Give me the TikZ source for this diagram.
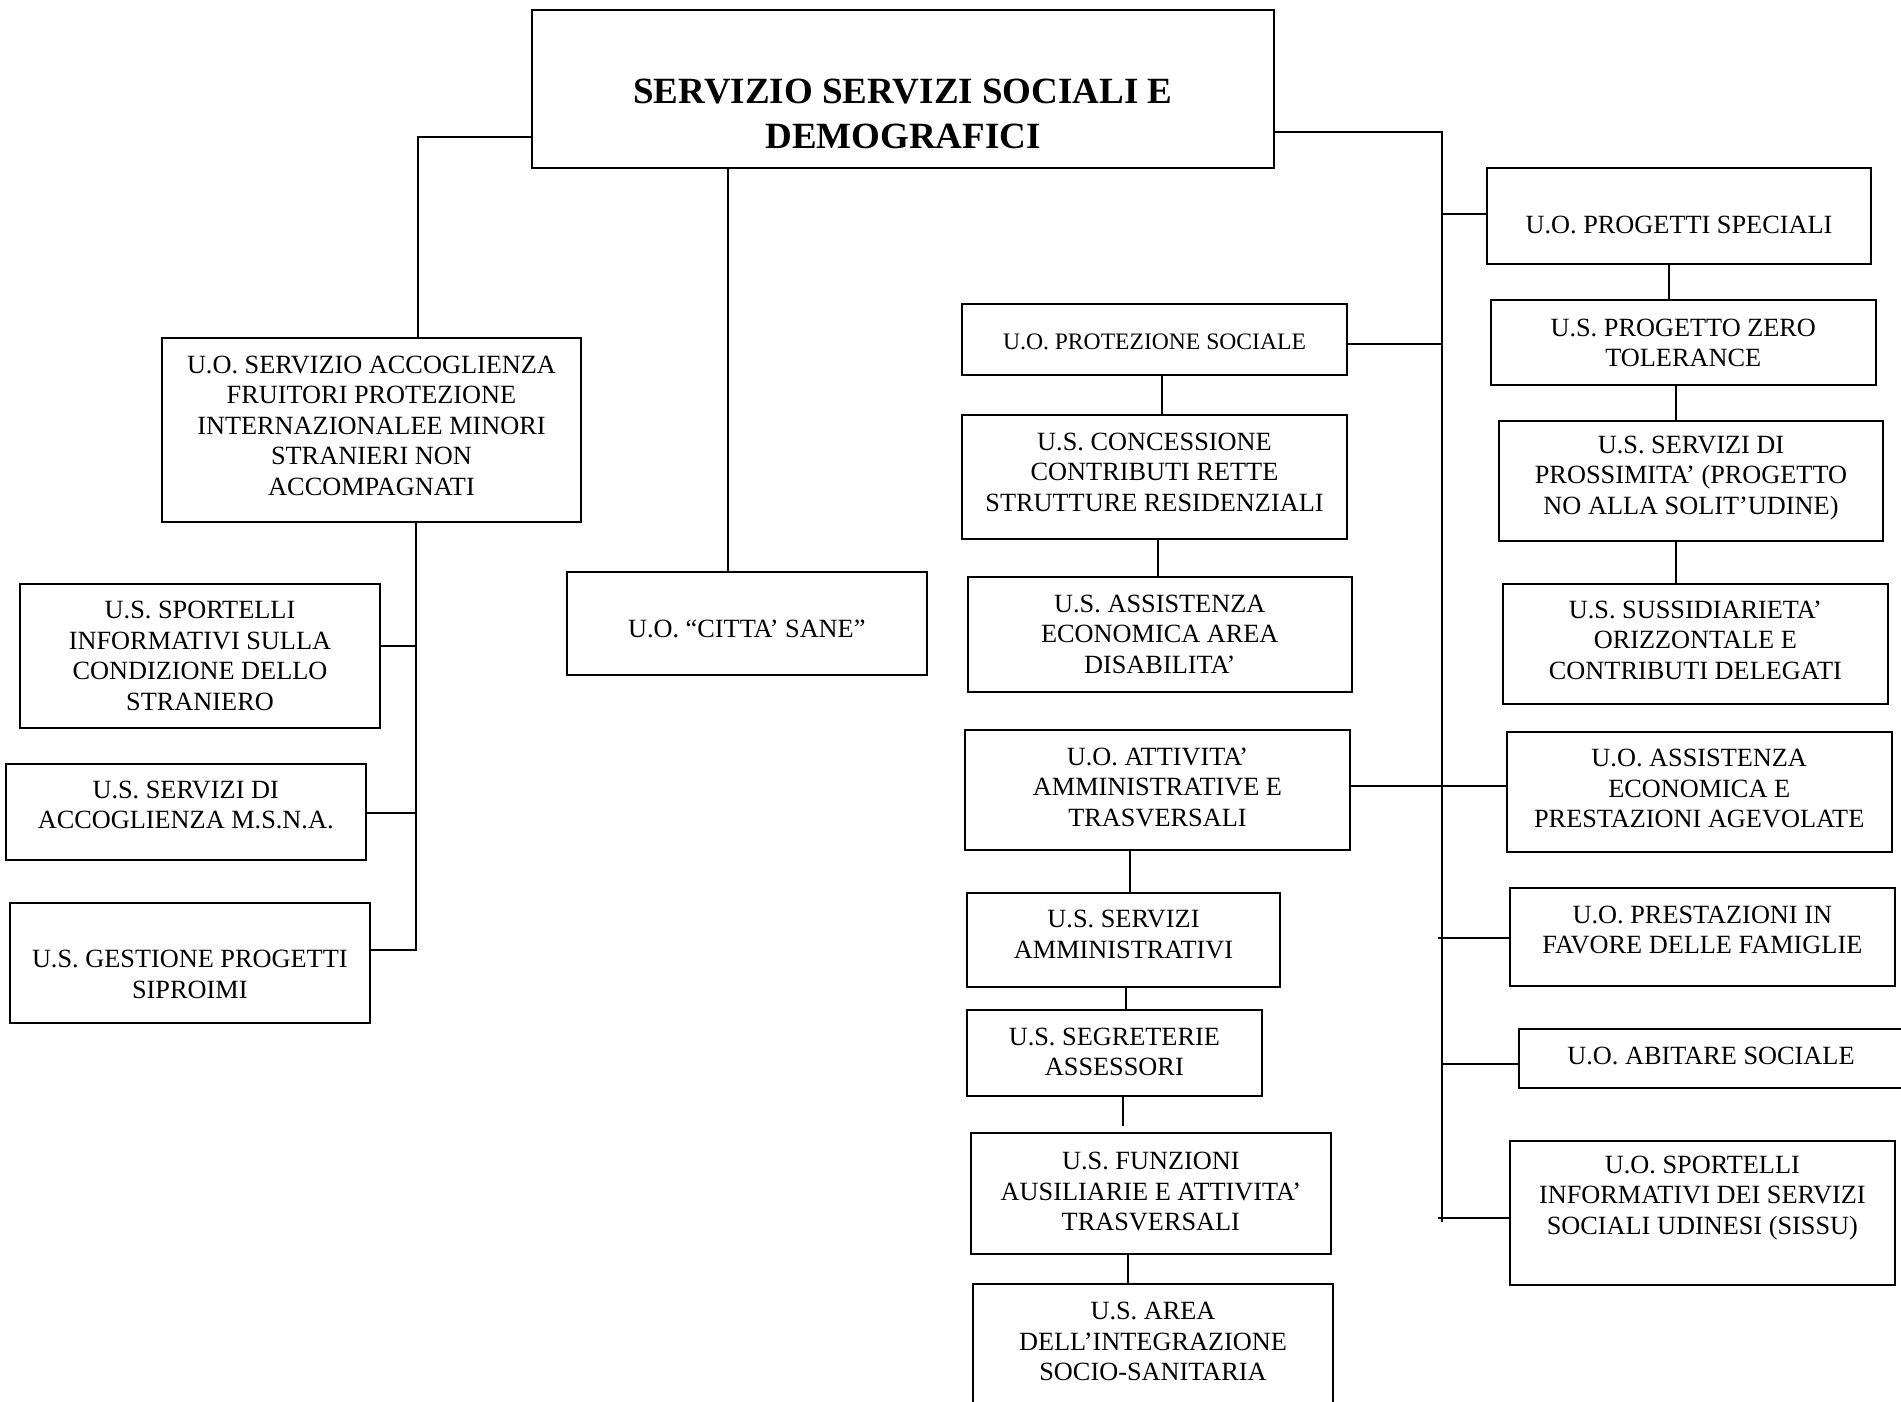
\documentclass[tikz,border=0pt]{standalone}
\usepackage{fontspec}
\setmainfont{Liberation Serif}
\usetikzlibrary{fit}
\begin{document}
\begin{tikzpicture}[x=0.5pt,y=-0.5pt,
  box/.style={draw=black, line width=1pt, inner sep=0pt, outer sep=0pt, rectangle},
  lbl/.style={inner sep=0pt, align=center, font=\fontsize{13.15pt}{15.25pt}\selectfont},
  lblsmall/.style={inner sep=0pt, align=center, font=\fontsize{11.8pt}{14pt}\selectfont},
  ttl/.style={inner sep=0pt, align=center, font=\fontsize{18.5pt}{22.3pt}\selectfont\bfseries},
  conn/.style={draw=black, line width=0.9pt}]
\useasboundingbox (0,0) rectangle (1901,1402);

% boxes
\node[box, fit={(532,10)(1274,168)}] (b-main) {};
\node[box, fit={(162,338)(581,522)}] (b-acc) {};
\node[box, fit={(566.5,572)(927,675)}] (b-citta) {};
\node[box, fit={(20,584)(380,728)}] (b-sport) {};
\node[box, fit={(5.5,764)(366,860)}] (b-msna) {};
\node[box, fit={(9.7,903)(370,1022.5)}] (b-gest) {};
\node[box, fit={(962,303.6)(1347,375)}] (b-prot) {};
\node[box, fit={(962,415)(1347,539)}] (b-conc) {};
\node[box, fit={(968,577)(1351.5,692)}] (b-disab) {};
\node[box, fit={(965,730.4)(1350,849.5)}] (b-att) {};
\node[box, fit={(967,892.5)(1280,987)}] (b-servamm) {};
\node[box, fit={(967,1010)(1261.7,1096)}] (b-segr) {};
\node[box, fit={(970.7,1133)(1331,1253.5)}] (b-funz) {};
\node[box, fit={(972.7,1284.3)(1333.3,1412)}] (b-area) {};
\node[box, fit={(1487,168)(1871,263.7)}] (b-ps) {};
\node[box, fit={(1491,300)(1875.5,385)}] (b-zero) {};
\node[box, fit={(1499,421)(1883,541)}] (b-pross) {};
\node[box, fit={(1503,584)(1887.7,703.7)}] (b-suss) {};
\node[box, fit={(1506.7,732.3)(1891.7,852.3)}] (b-ass) {};
\node[box, fit={(1510,888)(1894.7,986)}] (b-fam) {};
\node[box, fit={(1519,1028.7)(1903,1087.7)}] (b-abit) {};
\node[box, fit={(1510,1141)(1894.7,1284.7)}] (b-sissu) {};

% texts
\node[ttl] (t-main) at (903,113.75) {SERVIZIO SERVIZI SOCIALI E\\DEMOGRAFICI};
\node[lbl] (t-acc) at (371.5,425.8) {U.O. SERVIZIO ACCOGLIENZA\\FRUITORI PROTEZIONE\\INTERNAZIONALEE MINORI\\STRANIERI NON\\ACCOMPAGNATI};
\node[lbl] (t-citta) at (746.75,628.5) {U.O. “CITTA’ SANE”};
\node[lbl] (t-sport) at (200,656) {U.S. SPORTELLI\\INFORMATIVI SULLA\\CONDIZIONE DELLO\\STRANIERO};
\node[lbl] (t-msna) at (185.7,805) {U.S. SERVIZI DI\\ACCOGLIENZA M.S.N.A.};
\node[lbl] (t-gest) at (189.8,974.5) {U.S. GESTIONE PROGETTI\\SIPROIMI};
\node[lblsmall] (t-prot) at (1154.5,341.5) {U.O. PROTEZIONE SOCIALE};
\node[lbl] (t-conc) at (1154.5,472) {U.S. CONCESSIONE\\CONTRIBUTI RETTE\\STRUTTURE RESIDENZIALI};
\node[lbl] (t-disab) at (1159.75,634) {U.S. ASSISTENZA\\ECONOMICA AREA\\DISABILITA’};
\node[lbl] (t-att) at (1157.5,787) {U.O. ATTIVITA’\\AMMINISTRATIVE E\\TRASVERSALI};
\node[lbl] (t-servamm) at (1123.5,934.4) {U.S. SERVIZI\\AMMINISTRATIVI};
\node[lbl] (t-segr) at (1114.35,1052) {U.S. SEGRETERIE\\ASSESSORI};
\node[lbl] (t-funz) at (1150.85,1191.5) {U.S. FUNZIONI\\AUSILIARIE E ATTIVITA’\\TRASVERSALI};
\node[lbl] (t-area) at (1153,1341.7) {U.S. AREA\\DELL’INTEGRAZIONE\\SOCIO-SANITARIA};
\node[lbl] (t-ps) at (1679,225.4) {U.O. PROGETTI SPECIALI};
\node[lbl] (t-zero) at (1683.25,342.7) {U.S. PROGETTO ZERO\\TOLERANCE};
\node[lbl] (t-pross) at (1691,477.7) {U.S. SERVIZI DI\\PROSSIMITA’ (PROGETTO\\NO ALLA SOLIT’UDINE)};
\node[lbl] (t-suss) at (1695.35,640) {U.S. SUSSIDIARIETA’\\ORIZZONTALE E\\CONTRIBUTI DELEGATI};
\node[lbl] (t-ass) at (1699.2,788.7) {U.O. ASSISTENZA\\ECONOMICA E\\PRESTAZIONI AGEVOLATE};
\node[lbl] (t-fam) at (1702.35,930) {U.O. PRESTAZIONI IN\\FAVORE DELLE FAMIGLIE};
\node[lbl] (t-abit) at (1711,1055.7) {U.O. ABITARE SOCIALE};
\node[lbl] (t-sissu) at (1702.35,1198) {U.O. SPORTELLI\\INFORMATIVI DEI SERVIZI\\SOCIALI UDINESI (SISSU)};

% junction coordinates
\coordinate (jL) at (418,137);
\coordinate (jC) at (728,0);
\coordinate (jS1) at (416,645.7);
\coordinate (jS2) at (416,813);
\coordinate (jS3) at (416,950.3);
\coordinate (jR) at (1442,132);
\coordinate (jRe) at (1442,1221.7);
\coordinate (jPS) at (1442,214);
\coordinate (jPR) at (1442,344);
\coordinate (jAA) at (1442,786);
\coordinate (jF) at (1437.7,937.7);
\coordinate (jAb) at (1442,1063.7);
\coordinate (jSi) at (1437.7,1218);
\coordinate (xPS) at (1669,0);
\coordinate (xZ) at (1676,0);
\coordinate (xP) at (1162,0);
\coordinate (xC) at (1158,0);
\coordinate (xA) at (1130,0);
\coordinate (xS) at (1126,0);
\coordinate (xG) at (1123,1126);
\coordinate (xF) at (1128,0);

% left branch
\draw[conn] (b-main.west |- jL) -- (jL) -- (jL |- b-acc.north);
\draw[conn] (jC |- b-main.south) -- (jC |- b-citta.north);
\draw[conn] (jS3 |- b-acc.south) -- (jS3) -- (b-gest.east |- jS3);
\draw[conn] (b-sport.east |- jS1) -- (jS1);
\draw[conn] (b-msna.east |- jS2) -- (jS2);

% right trunk
\draw[conn] (b-main.east |- jR) -- (jR) -- (jRe);
\draw[conn] (jPS) -- (b-ps.west |- jPS);
\draw[conn] (b-prot.east |- jPR) -- (jPR);
\draw[conn] (b-att.east |- jAA) -- (b-ass.west |- jAA);
\draw[conn] (jF) -- (b-fam.west |- jF);
\draw[conn] (jAb) -- (b-abit.west |- jAb);
\draw[conn] (jSi) -- (b-sissu.west |- jSi);

% right column
\draw[conn] (xPS |- b-ps.south) -- (xPS |- b-zero.north);
\draw[conn] (xZ |- b-zero.south) -- (xZ |- b-pross.north);
\draw[conn] (xZ |- b-pross.south) -- (xZ |- b-suss.north);

% middle column
\draw[conn] (xP |- b-prot.south) -- (xP |- b-conc.north);
\draw[conn] (xC |- b-conc.south) -- (xC |- b-disab.north);
\draw[conn] (xA |- b-att.south) -- (xA |- b-servamm.north);
\draw[conn] (xS |- b-servamm.south) -- (xS |- b-segr.north);
\draw[conn] (xG |- b-segr.south) -- (xG);
\draw[conn] (xF |- b-funz.south) -- (xF |- b-area.north);
\end{tikzpicture}
\end{document}
